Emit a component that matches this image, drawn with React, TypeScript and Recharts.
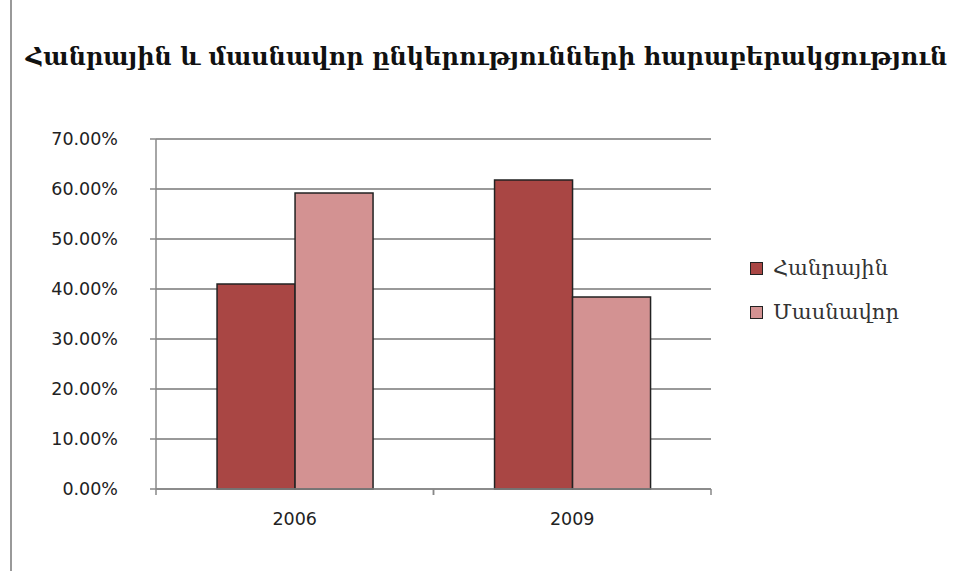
import { Bar, BarChart, CartesianGrid, XAxis, YAxis } from "recharts"

// Հանրային և մասնավոր ընկերությունների հարաբերակցություն
const TITLE = "Հանրային և մասնավոր ընկերությունների հարաբերակցություն"

const years = ["2006", "2009"]
const publicShare = [0.41, 0.618]
const privateShare = [0.592, 0.384]
const yTicks = [0, 0.1, 0.2, 0.3, 0.4, 0.5, 0.6, 0.7]

const SERIES = [
  { key: "public", name: "Հանրային", color: "#a94644" },
  { key: "private", name: "Մասնավոր", color: "#d39292" },
]

const data = years.map((year, i) => ({
  year,
  public: publicShare[i],
  private: privateShare[i],
}))

const PLOT_LEFT = 156
const PLOT_RIGHT = 711
const BAND = (PLOT_RIGHT - PLOT_LEFT) / years.length

const XTick = ({ x, y, payload }: { x: number; y: number; payload: { value: string } }) => (
  <g>
    <line x1={x - BAND / 2} y1={y - 8} x2={x - BAND / 2} y2={y - 2} stroke="#888" strokeWidth={1.5} />
    <line x1={x + BAND / 2} y1={y - 8} x2={x + BAND / 2} y2={y - 2} stroke="#888" strokeWidth={1.5} />
    <text x={x} y={y + 28} textAnchor="middle" fontSize={17.5} fill="#222" fontFamily="'DejaVu Sans', sans-serif">
      {payload.value}
    </text>
  </g>
)

const LegendBox = () => (
  <div style={{ fontFamily: "'DejaVu Serif', serif", fontSize: 21, color: "#333" }}>
    {SERIES.map((s) => (
      <div key={s.key} style={{ display: "flex", alignItems: "center", height: 44 }}>
        <span
          style={{
            display: "inline-block",
            width: 11,
            height: 11,
            background: s.color,
            border: "1.5px solid #222",
            marginRight: 10,
          }}
        />
        {s.name}
      </div>
    ))}
  </div>
)

export default function App() {
  return (
    <div style={{ position: "absolute", left: 0, top: 0, width: 973, height: 571, background: "#fff", overflow: "hidden" }}>
      <div style={{ position: "absolute", left: 10, top: 0, width: 1.5, height: 571, background: "#999" }} />
      <div
        style={{
          position: "absolute",
          left: 0,
          top: 42,
          width: 973,
          textAlign: "center",
          fontFamily: "'DejaVu Serif', serif",
          fontSize: 24,
          fontWeight: "bold",
          color: "#111",
          whiteSpace: "nowrap",
        }}
      >
        {TITLE}
      </div>
      <div style={{ position: "absolute", left: 0, top: 0 }}>
        <BarChart
          width={973}
          height={571}
          data={data}
          margin={{ top: 139, right: 973 - PLOT_RIGHT, bottom: 42, left: 10 }}
          barGap={0}
          barCategoryGap="22%"
        >
          <CartesianGrid vertical={false} stroke="#999" strokeWidth={2} />
          <XAxis
            dataKey="year"
            axisLine={{ stroke: "#888", strokeWidth: 1.5 }}
            tickLine={false}
            tick={XTick as any}
            height={40}
            interval={0}
          />
          <YAxis
            width={PLOT_LEFT - 10}
            domain={[0, 0.7]}
            ticks={yTicks}
            tickFormatter={(v: number) => `${(v * 100).toFixed(2)}%`}
            axisLine={{ stroke: "#888", strokeWidth: 1.5 }}
            tickLine={{ stroke: "#888", strokeWidth: 1.5 }}
            tickSize={6}
            tickMargin={32}
            tick={{ fontSize: 17.5, fill: "#222", fontFamily: "'DejaVu Sans', sans-serif" }}
          />
          {SERIES.map((s) => (
            <Bar
              key={s.key}
              dataKey={s.key}
              name={s.name}
              fill={s.color}
              stroke="#222"
              strokeWidth={1.5}
              isAnimationActive={false}
            />
          ))}
        </BarChart>
      </div>
      <div style={{ position: "absolute", left: 750, top: 246 }}>
        <LegendBox />
      </div>
    </div>
  )
}
